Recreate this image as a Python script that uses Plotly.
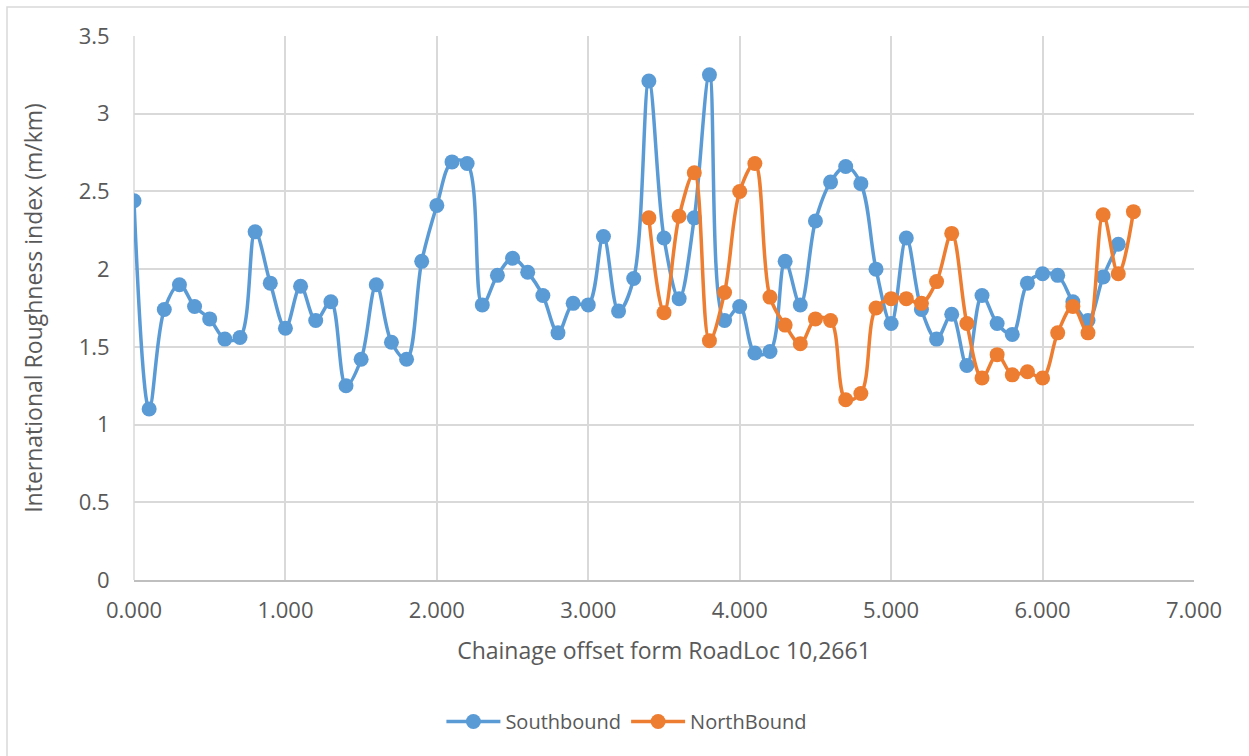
import plotly.graph_objects as go

# Chainage offsets (km) and IRI readings (m/km)
south_chainage = [round(i * 0.1, 1) for i in range(66)]
south_iri = [2.44, 1.10, 1.74, 1.90, 1.76, 1.68, 1.55, 1.56, 2.24, 1.91,
             1.62, 1.89, 1.67, 1.79, 1.25, 1.42, 1.90, 1.53, 1.42, 2.05,
             2.41, 2.69, 2.68, 1.77, 1.96, 2.07, 1.98, 1.83, 1.59, 1.78,
             1.77, 2.21, 1.73, 1.94, 3.21, 2.20, 1.81, 2.33, 3.25, 1.67,
             1.76, 1.46, 1.47, 2.05, 1.77, 2.31, 2.56, 2.66, 2.55, 2.00,
             1.65, 2.20, 1.74, 1.55, 1.71, 1.38, 1.83, 1.65, 1.58, 1.91,
             1.97, 1.96, 1.79, 1.67, 1.95, 2.16]

north_chainage = [round(3.4 + i * 0.1, 1) for i in range(33)]
north_iri = [2.33, 1.72, 2.34, 2.62, 1.54, 1.85, 2.50, 2.68, 1.82, 1.64,
             1.52, 1.68, 1.67, 1.16, 1.20, 1.75, 1.81, 1.81, 1.78, 1.92,
             2.23, 1.65, 1.30, 1.45, 1.32, 1.34, 1.30, 1.59, 1.76, 1.59,
             2.35, 1.97, 2.37]

x_ticks = [0, 1, 2, 3, 4, 5, 6, 7]
x_tick_labels = ["0.000", "1.000", "2.000", "3.000", "4.000", "5.000", "6.000", "7.000"]
y_ticks = [0, 0.5, 1, 1.5, 2, 2.5, 3, 3.5]
y_tick_labels = ["0", "0.5", "1", "1.5", "2", "2.5", "3", "3.5"]

BLUE = "#5B9BD5"
ORANGE = "#ED7D31"
TEXT = "#595959"
GRID = "#D9D9D9"
FONT = "Open Sans"
TICK_SIZE = 22
TITLE_SIZE = 23
LEGEND_SIZE = 20

fig = go.Figure()
fig.add_trace(go.Scatter(
    x=south_chainage, y=south_iri, name="Southbound",
    mode="lines+markers", line=dict(color=BLUE, width=3.5, shape="spline"),
    marker=dict(color=BLUE, size=15),
))
fig.add_trace(go.Scatter(
    x=north_chainage, y=north_iri, name="NorthBound",
    mode="lines+markers", line=dict(color=ORANGE, width=3.5, shape="spline"),
    marker=dict(color=ORANGE, size=15),
))

fig.update_layout(
    width=1249, height=756,
    margin=dict(l=134, r=55, t=36, b=176),
    paper_bgcolor="white", plot_bgcolor="white",
    font=dict(family=FONT, size=TICK_SIZE, color=TEXT),
    showlegend=True,
    legend=dict(orientation="h", x=0.465, xanchor="center", y=-0.26, yanchor="middle",
                font=dict(family=FONT, size=LEGEND_SIZE, color=TEXT), itemwidth=54),
    xaxis=dict(
        range=[0, 7], tickvals=x_ticks, ticktext=x_tick_labels,
        showgrid=True, gridcolor=GRID, gridwidth=1.5,
        zeroline=False, showline=True, linecolor="#BFBFBF", linewidth=1.5,
        ticks="outside", ticklen=10, tickcolor="rgba(0,0,0,0)",
        tickfont=dict(family=FONT, size=TICK_SIZE, color=TEXT),
        title=dict(text="Chainage offset form RoadLoc 10,2661", standoff=20,
                   font=dict(family=FONT, size=TITLE_SIZE, color=TEXT)),
    ),
    yaxis=dict(
        range=[0, 3.5], tickvals=y_ticks, ticktext=y_tick_labels,
        showgrid=True, gridcolor=GRID, gridwidth=1.5,
        zeroline=False, showline=False,
        ticks="outside", ticklen=19, tickcolor="rgba(0,0,0,0)",
        tickfont=dict(family=FONT, size=TICK_SIZE, color=TEXT),
        title=dict(text="International Roughness index (m/km)", standoff=29,
                   font=dict(family=FONT, size=TITLE_SIZE, color=TEXT)),
    ),
    shapes=[
        # left edge of the plot area
        dict(type="line", xref="paper", yref="paper", x0=0, x1=0, y0=0, y1=1,
             line=dict(color=GRID, width=1.5), layer="below"),
        # outer chart frame
        dict(type="rect", xref="paper", yref="paper",
             x0=(7 - 134) / 1060, x1=(1270 - 134) / 1060,
             y0=(580 - 800) / 544, y1=(580 - 7) / 544,
             line=dict(color="#D9D9D9", width=1.5), fillcolor="rgba(0,0,0,0)"),
    ],
)

fig.write_html("out.html")
